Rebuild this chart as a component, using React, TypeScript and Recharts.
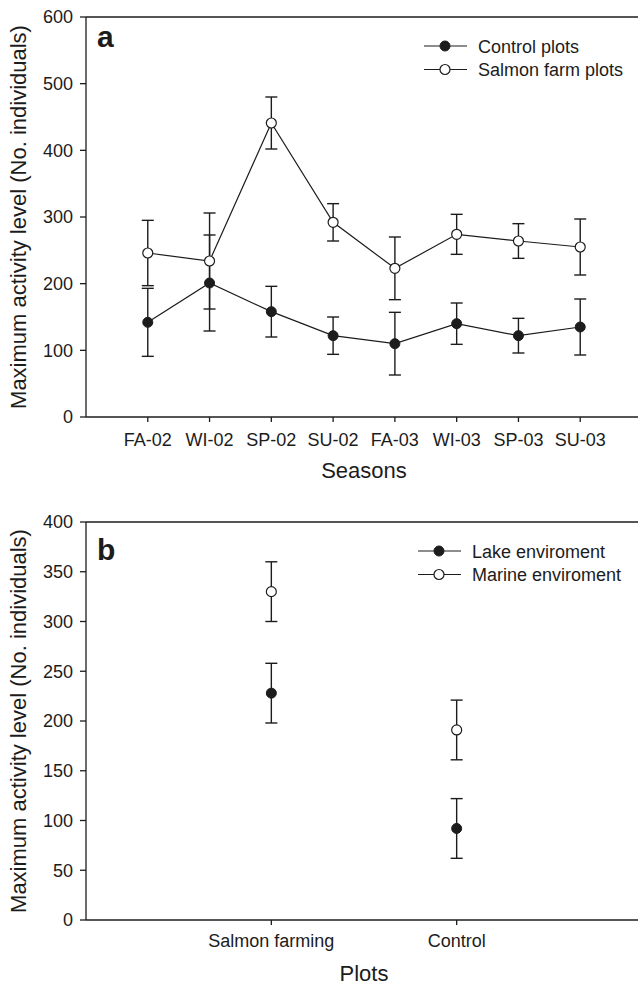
import React from "react";
import {
  Customized,
  ErrorBar,
  Label,
  Legend,
  Line,
  LineChart,
  ReferenceLine,
  XAxis,
  YAxis,
} from "recharts";

const seasons = ["FA-02", "WI-02", "SP-02", "SU-02", "FA-03", "WI-03", "SP-03", "SU-03"];
const controlPlots = [142, 201, 158, 122, 110, 140, 122, 135];
const controlErr = [51, 72, 38, 28, 47, 31, 26, 42];
const salmonPlots = [246, 234, 441, 292, 223, 274, 264, 255];
const salmonErr = [49, 72, 39, 28, 47, 30, 26, 42];
const seasonTicks = [1, 2, 3, 4, 5, 6, 7, 8];
const topYTicks = [0, 100, 200, 300, 400, 500, 600];

const plotGroups = ["Salmon farming", "Control"];
const lakeEnv = [228, 92];
const lakeErr = [30, 30];
const marineEnv = [330, 191];
const marineErr = [30, 30];
const plotTicks = [1, 2];
const bottomYTicks = [0, 50, 100, 150, 200, 250, 300, 350, 400];

const FONT = '"Liberation Sans", Arial, Helvetica, sans-serif';
const INK = "#1c1c1c";
const Y_TITLE = "Maximum activity level (No. individuals)";

const seasonData = seasons.map((s, i) => ({
  x: i + 1,
  label: s,
  control: controlPlots[i],
  controlErr: controlErr[i],
  salmon: salmonPlots[i],
  salmonErr: salmonErr[i],
}));

const envData = plotGroups.map((p, i) => ({
  x: i + 1,
  label: p,
  lake: lakeEnv[i],
  lakeErr: lakeErr[i],
  marine: marineEnv[i],
  marineErr: marineErr[i],
}));

const tickStyle = { fontSize: 18, fill: INK, fontFamily: FONT };
const axisLine = { stroke: INK, strokeWidth: 1.3 };
const filledDot = { r: 5, fill: INK, stroke: INK, strokeWidth: 1 };
const openDot = { r: 5, fill: "#fff", stroke: INK, strokeWidth: 1.2 };

function YTitle({ viewBox }: any) {
  const cy = viewBox.y + viewBox.height / 2;
  return (
    <text
      x={18}
      y={cy}
      transform={`rotate(-90 18 ${cy})`}
      textAnchor="middle"
      dominantBaseline="central"
      fontSize={22}
      fontFamily={FONT}
      fill={INK}
    >
      {Y_TITLE}
    </text>
  );
}

function XTitle({ text, baseline }: { text: string; baseline: number }) {
  return ({ viewBox }: any) => (
    <text
      x={viewBox.x + viewBox.width / 2}
      y={baseline}
      textAnchor="middle"
      fontSize={22}
      fontFamily={FONT}
      fill={INK}
    >
      {text}
    </text>
  );
}

function LegendBox({ items }: { items: { name: string; filled: boolean }[] }) {
  return (
    <svg width={220} height={50} style={{ display: "block" }}>
      {items.map((it, i) => {
        const cy = 12 + i * 23.5;
        return (
          <g key={it.name}>
            <line x1={6} x2={49} y1={cy} y2={cy} stroke={INK} strokeWidth={1.2} />
            <circle cx={27} cy={cy} {...(it.filled ? filledDot : openDot)} />
            <text x={60} y={cy + 6.5} fontSize={18} fontFamily={FONT} fill={INK}>
              {it.name}
            </text>
          </g>
        );
      })}
    </svg>
  );
}

function PanelLetter({ letter, baseline }: { letter: string; baseline: number }) {
  return () => (
    <text x={97} y={baseline} fontSize={30} fontWeight="bold" fontFamily={FONT} fill={INK}>
      {letter}
    </text>
  );
}

export default function App() {
  return (
    <div
      style={{
        position: "absolute",
        left: 0,
        top: 0,
        width: 638,
        height: 986,
        overflow: "hidden",
        background: "#fff",
      }}
    >
      <div style={{ position: "absolute", left: 0, top: 0 }}>
        <LineChart
          width={642}
          height={500}
          data={seasonData}
          margin={{ top: 17, right: 0, left: 0, bottom: 0 }}
        >
          <XAxis
            dataKey="x"
            type="number"
            domain={[0, 9]}
            ticks={seasonTicks}
            tickFormatter={(v) => seasons[v - 1]}
            interval={0}
            height={83}
            tickSize={5}
            tickMargin={11}
            tick={tickStyle}
            axisLine={axisLine}
            tickLine={axisLine}
          >
            <Label content={XTitle({ text: "Seasons", baseline: 478 })} />
          </XAxis>
          <YAxis
            type="number"
            domain={[0, 600]}
            ticks={topYTicks}
            interval={0}
            width={86}
            tickSize={6}
            tickMargin={7}
            tick={tickStyle}
            axisLine={axisLine}
            tickLine={axisLine}
          >
            <Label content={YTitle} />
          </YAxis>
          <ReferenceLine y={600} stroke={INK} strokeWidth={1.3} />
          <Line
            dataKey="control"
            stroke={INK}
            strokeWidth={1.2}
            dot={filledDot}
            activeDot={false}
            isAnimationActive={false}
          >
            <ErrorBar dataKey="controlErr" width={6} stroke={INK} strokeWidth={1.4} direction="y" />
          </Line>
          <Line
            dataKey="salmon"
            stroke={INK}
            strokeWidth={1.2}
            dot={openDot}
            activeDot={false}
            isAnimationActive={false}
          >
            <ErrorBar dataKey="salmonErr" width={6} stroke={INK} strokeWidth={1.4} direction="y" />
          </Line>
          <Legend
            layout="vertical"
            align="center"
            verticalAlign="middle"
            wrapperStyle={{ top: 34, left: 418, width: 220 }}
            content={() => (
              <LegendBox
                items={[
                  { name: "Control plots", filled: true },
                  { name: "Salmon farm plots", filled: false },
                ]}
              />
            )}
          />
          <Customized component={PanelLetter({ letter: "a", baseline: 47 })} />
        </LineChart>
      </div>

      <div style={{ position: "absolute", left: 0, top: 500 }}>
        <LineChart
          width={642}
          height={486}
          data={envData}
          margin={{ top: 22, right: 0, left: 0, bottom: 0 }}
        >
          <XAxis
            dataKey="x"
            type="number"
            domain={[0, 3]}
            ticks={plotTicks}
            tickFormatter={(v) => plotGroups[v - 1]}
            interval={0}
            height={66}
            tickSize={5}
            tickMargin={9}
            tick={tickStyle}
            axisLine={axisLine}
            tickLine={axisLine}
          >
            <Label content={XTitle({ text: "Plots", baseline: 481 })} />
          </XAxis>
          <YAxis
            type="number"
            domain={[0, 400]}
            ticks={bottomYTicks}
            interval={0}
            width={86}
            tickSize={6}
            tickMargin={7}
            tick={tickStyle}
            axisLine={axisLine}
            tickLine={axisLine}
          >
            <Label content={YTitle} />
          </YAxis>
          <ReferenceLine y={400} stroke={INK} strokeWidth={1.3} />
          <Line
            dataKey="lake"
            stroke="none"
            dot={filledDot}
            activeDot={false}
            isAnimationActive={false}
          >
            <ErrorBar dataKey="lakeErr" width={6} stroke={INK} strokeWidth={1.4} direction="y" />
          </Line>
          <Line
            dataKey="marine"
            stroke="none"
            dot={openDot}
            activeDot={false}
            isAnimationActive={false}
          >
            <ErrorBar dataKey="marineErr" width={6} stroke={INK} strokeWidth={1.4} direction="y" />
          </Line>
          <Legend
            layout="vertical"
            align="center"
            verticalAlign="middle"
            wrapperStyle={{ top: 39, left: 412, width: 220 }}
            content={() => (
              <LegendBox
                items={[
                  { name: "Lake enviroment", filled: true },
                  { name: "Marine enviroment", filled: false },
                ]}
              />
            )}
          />
          <Customized component={PanelLetter({ letter: "b", baseline: 60 })} />
        </LineChart>
      </div>
    </div>
  );
}
